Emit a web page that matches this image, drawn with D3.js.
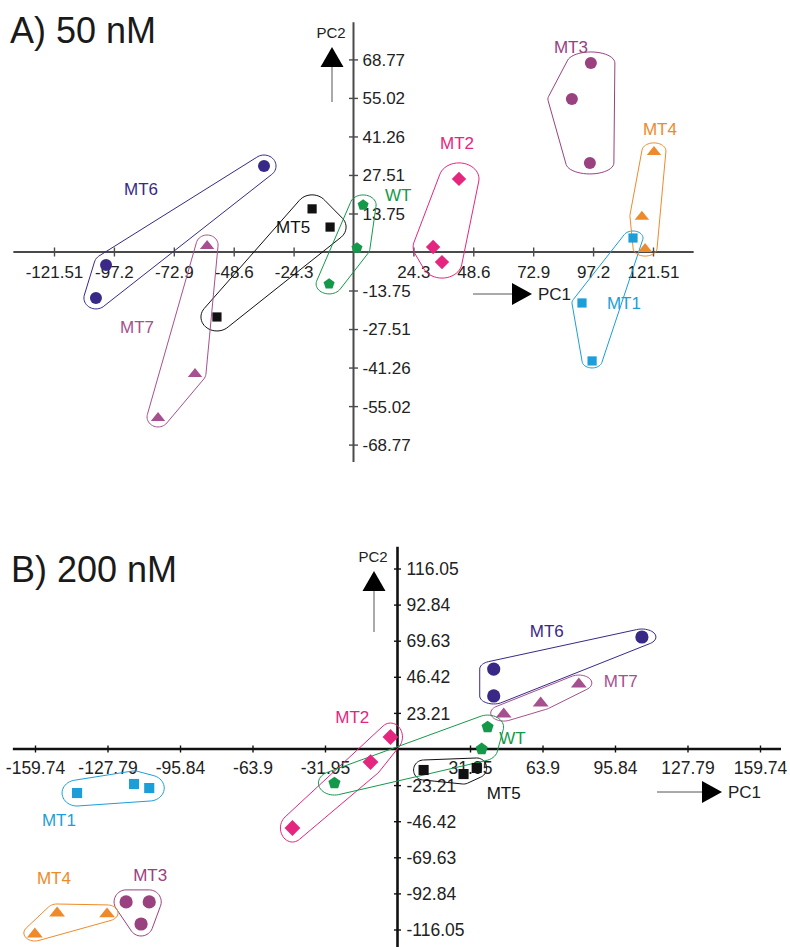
<!DOCTYPE html>
<html lang="en">
<head>
<meta charset="utf-8">
<title>PCA: 50 nM and 200 nM</title>
<script src="https://d3js.org/d3.v7.min.js"></script>
<style>
	body { margin: 0; background: #fff; }
	svg text { font-family: "Liberation Sans", Arial, Helvetica, sans-serif; }
</style>
</head>
<body>
<script>

// Groups, their colours and marker shapes
var groups = ["MT1", "MT2", "MT3", "MT4", "MT5", "MT6", "MT7", "WT"];
var groupColors = ["#1c9fd8", "#e4267f", "#9a417f", "#ef8a2a", "#111111", "#3a2886", "#a6508f", "#14994a"];
var groupShapes = ["square", "diamond", "circle", "triangle", "square", "circle", "triangle", "pentagon"];

// Panel A (50 nM): PC1 / PC2 scores, three replicates per group (same order as groups)
var pc1A = [[113.4, 92.7, 96.8], [42.8, 32.3, 35.9], [88.6, 96.3, 95.9], [121.9, 117.0, 118.3],
            [-16.8, -9.5, -55.4], [-36.3, -100.4, -104.5], [-59.4, -64.3, -79.3], [3.9, 1.4, -9.9]];
var pc2A = [[5.0, -18.2, -38.9], [26.1, 1.8, -3.6], [54.6, 67.5, 31.8], [36.1, 12.9, 1.4],
            [15.4, 8.9, -23.2], [30.7, -4.6, -16.4], [2.5, -43.2, -58.9], [16.8, 1.4, -11.4]];

// Panel B (200 nM)
var pc1B = [[-141.2, -116.1, -109.4], [-3.1, -11.9, -46.3], [-119.6, -109.4, -113.0], [-150.0, -128.0, -159.8],
            [11.5, 29.1, 34.9], [42.4, 42.4, 107.7], [46.8, 63.1, 79.9], [-27.8, 39.7, 37.1]];
var pc2B = [[-28.3, -22.5, -25.1], [7.7, -8.4, -50.8], [-98.3, -98.3, -112.5], [-104.8, -105.4, -118.3],
            [-13.5, -16.1, -12.2], [51.4, 34.1, 72.0], [23.1, 30.2, 42.4], [-21.9, 14.1, 0.0]];

// Where each group name is written, in PC units
var labelA = [[109.7, -18.2], [42.0, 38.9], [88.2, 73.2], [124.3, 43.9],
              [-24.5, 8.9], [-86.2, 22.5], [-87.8, -26.8], [18.1, 20.4]];
var labelB = [[-149.2, -45.6], [-19.9, 20.6], [-109.0, -81.0], [-151.4, -82.9],
              [46.8, -28.3], [65.8, 75.8], [98.4, 43.7], [50.7, 7.1]];

// Tick labels
var xTicksA = ["-121.51", "-97.2", "-72.9", "-48.6", "-24.3", "24.3", "48.6", "72.9", "97.2", "121.51"];
var yTicksA = ["-68.77", "-55.02", "-41.26", "-27.51", "-13.75", "13.75", "27.51", "41.26", "55.02", "68.77"];
var xTicksB = ["-159.74", "-127.79", "-95.84", "-63.9", "-31.95", "31.95", "63.9", "95.84", "127.79", "159.74"];
var yTicksB = ["-116.05", "-92.84", "-69.63", "-46.42", "-23.21", "23.21", "46.42", "69.63", "92.84", "116.05"];

// padding (px, horizontal / vertical) of the loop drawn round each group
var loopPadA = [[10, 7], [20, 16], [24, 11], [12, 8], [16, 14], [12, 11], [11, 10], [13, 10]];
var loopPadB = [[15, 13], [12, 14], [12, 12], [11, 8], [10, 10], [14, 8], [13, 8], [16, 12]];

var svg = d3.select("body").append("svg")
	.attr("width", 790)
	.attr("height", 947);

// marker paths, centred on 0,0
function markerPath(shape, k) {
	if (shape == "circle") {
		return d3.symbol(d3.symbolCircle, Math.PI * 36 * k * k)();
	}
	if (shape == "square") {
		var h = 4.6 * k;
		return "M" + (-h) + "," + (-h) + "H" + h + "V" + h + "H" + (-h) + "Z";
	}
	if (shape == "diamond") {
		var d = 7.2 * k;
		return "M0," + (-d) + "L" + d + ",0L0," + d + "L" + (-d) + ",0Z";
	}
	if (shape == "triangle") {
		return "M0," + (-5 * k) + "L" + (7.2 * k) + "," + (4 * k) + "L" + (-7.2 * k) + "," + (4 * k) + "Z";
	}
	// pentagon
	var pts = d3.range(5).map(function(i) {
		var a = -Math.PI / 2 + i * 2 * Math.PI / 5;
		return [5.8 * k * Math.cos(a), 5.8 * k * Math.sin(a)];
	});
	return "M" + pts.join("L") + "Z";
}

// smooth loop = convex hull of small ellipses round each point
function loopPath(pts, pad) {
	var ring = [];
	pts.forEach(function(p) {
		for (var k = 0; k < 48; k++) {
			var a = k / 48 * 2 * Math.PI;
			ring.push([p[0] + pad[0] * Math.cos(a), p[1] + pad[1] * Math.sin(a)]);
		}
	});
	return d3.line().curve(d3.curveLinearClosed)(d3.polygonHull(ring));
}

function drawPanel(p) {
	var g = svg.append("g");

	// title
	g.append("text")
		.attr("x", p.titleX).attr("y", p.titleY)
		.style("font-size", "36px")
		.attr("fill", "#1a1a1a")
		.text(p.title);

	// axis lines (run past the outer ticks)
	g.append("line")
		.attr("x1", p.x(p.xExt[0])).attr("x2", p.x(p.xExt[1]))
		.attr("y1", p.y(0)).attr("y2", p.y(0))
		.attr("stroke", p.axisColor).attr("stroke-width", p.axisWidth);
	g.append("line")
		.attr("x1", p.x(0)).attr("x2", p.x(0))
		.attr("y1", p.y(p.yExt[0])).attr("y2", p.y(p.yExt[1]))
		.attr("stroke", p.axisColor).attr("stroke-width", p.axisWidth);

	// X axis ticks
	var xa = g.append("g")
		.attr("transform", "translate(0," + p.y(0) + ")")
		.call(d3.axisBottom(p.x)
			.tickValues(p.xTicks.map(Number))
			.tickFormat(function(d, i) { return p.xTicks[i]; })
			.tickSize(0));
	xa.select(".domain").remove();
	xa.attr("font-family", null).attr("font-size", null).attr("color", p.axisColor);
	xa.selectAll(".tick line").attr("y1", -p.tick).attr("y2", p.tick).attr("stroke-width", 1.4);
	xa.selectAll(".tick text")
		.attr("y", p.xLabelGap).attr("dy", "0.35em")
		.attr("fill", "#222")
		.style("font-size", p.fontSize + "px");

	// Y axis ticks
	var ya = g.append("g")
		.attr("transform", "translate(" + p.x(0) + ",0)")
		.call(d3.axisRight(p.y)
			.tickValues(p.yTicks.map(Number))
			.tickFormat(function(d, i) { return p.yTicks[i]; })
			.tickSize(0));
	ya.select(".domain").remove();
	ya.attr("font-family", null).attr("font-size", null).attr("color", p.axisColor);
	ya.selectAll(".tick line").attr("x1", -p.tick).attr("x2", p.tick).attr("stroke-width", 1.4);
	ya.selectAll(".tick text")
		.attr("x", 9).attr("dy", "0.35em")
		.attr("fill", "#222")
		.style("font-size", p.fontSize + "px");

	// PC1 arrow
	var a1 = p.pc1Arrow;
	g.append("line").attr("x1", a1[0]).attr("x2", a1[1]).attr("y1", a1[2]).attr("y2", a1[2])
		.attr("stroke", "#555").attr("stroke-width", 1);
	g.append("path")
		.attr("d", "M" + a1[1] + "," + (a1[2] - 11) + "L" + (a1[1] + 20) + "," + a1[2] + "L" + a1[1] + "," + (a1[2] + 11) + "Z")
		.attr("fill", "#000");
	g.append("text").attr("x", a1[1] + 26).attr("y", a1[2]).attr("dy", "0.35em")
		.style("font-size", "17px").attr("fill", "#222").text("PC1");

	// PC2 arrow
	var a2 = p.pc2Arrow;
	g.append("line").attr("x1", a2[0]).attr("x2", a2[0]).attr("y1", a2[1] + 20).attr("y2", a2[2])
		.attr("stroke", "#555").attr("stroke-width", 1);
	g.append("path")
		.attr("d", "M" + a2[0] + "," + a2[1] + "L" + (a2[0] + 11.5) + "," + (a2[1] + 20) + "L" + (a2[0] - 11.5) + "," + (a2[1] + 20) + "Z")
		.attr("fill", "#000");
	g.append("text").attr("x", a2[0] - 1).attr("y", a2[1] - 14).attr("dy", "0.35em")
		.attr("text-anchor", "middle")
		.style("font-size", "15px").attr("fill", "#222").text("PC2");

	// loops round groups
	groups.forEach(function(name, gi) {
		var pts = p.pc1[gi].map(function(v, j) { return [p.x(v), p.y(p.pc2[gi][j])]; });
		g.append("path")
			.attr("d", loopPath(pts, p.pad[gi]))
			.attr("fill", "none")
			.attr("stroke", groupColors[gi])
			.attr("stroke-width", 1);
	});

	// markers
	groups.forEach(function(name, gi) {
		g.selectAll(".pt-" + name)
			.data(p.pc1[gi].map(function(v, j) { return [v, p.pc2[gi][j]]; }))
			.enter()
			.append("path")
			.attr("class", "pt-" + name)
			.attr("transform", function(d) { return "translate(" + p.x(d[0]) + "," + p.y(d[1]) + ")"; })
			.attr("d", markerPath(groupShapes[gi], p.markScale))
			.attr("fill", groupColors[gi]);
	});

	// group names
	g.selectAll(".glabel")
		.data(groups)
		.enter()
		.append("text")
		.attr("class", "glabel")
		.attr("x", function(d, i) { return p.x(p.labels[i][0]); })
		.attr("y", function(d, i) { return p.y(p.labels[i][1]); })
		.attr("dy", "0.35em")
		.attr("text-anchor", "middle")
		.style("font-size", "17px")
		.attr("fill", function(d, i) { return groupColors[i]; })
		.text(function(d) { return d; });
}

// Panel A
drawPanel({
	title: "A) 50 nM", titleX: 10, titleY: 43,
	x: d3.scaleLinear().domain([-121.51, 121.51]).range([54, 653]),
	y: d3.scaleLinear().domain([-68.77, 68.77]).range([444.6, 59.4]),
	xExt: [-138, 138], yExt: [-75, 82],
	xTicks: xTicksA, yTicks: yTicksA,
	pc1: pc1A, pc2: pc2A, labels: labelA, pad: loopPadA,
	axisColor: "#4a4a4a", axisWidth: 2, tick: 4.5, fontSize: 17, xLabelGap: 20,
	markScale: 1,
	pc1Arrow: [473, 512, 294],
	pc2Arrow: [332, 47, 102]
});

// Panel B
drawPanel({
	title: "B) 200 nM", titleX: 11, titleY: 582,
	x: d3.scaleLinear().domain([-159.74, 159.74]).range([35, 760]),
	y: d3.scaleLinear().domain([-116.05, 116.05]).range([929.5, 568.5]),
	xExt: [-169.5, 169], yExt: [-130, 130],
	xTicks: xTicksB, yTicks: yTicksB,
	pc1: pc1B, pc2: pc2B, labels: labelB, pad: loopPadB,
	axisColor: "#111", axisWidth: 2.6, tick: 3.5, fontSize: 17.5, xLabelGap: 19,
	markScale: 1.1,
	pc1Arrow: [657, 702, 792],
	pc2Arrow: [374, 571, 632]
});

</script>
</body>
</html>
